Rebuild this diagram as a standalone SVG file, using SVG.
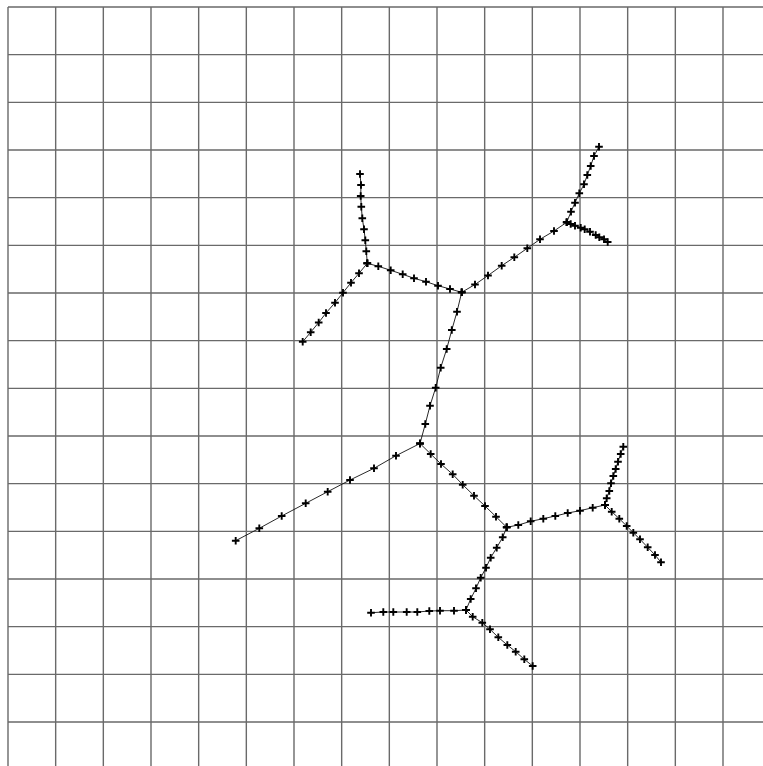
<svg xmlns="http://www.w3.org/2000/svg" width="763" height="766" viewBox="0 0 763 766">
<style>
.grid{stroke:#6a6a6a;stroke-width:1.4;fill:none}
.br{stroke:#111;stroke-width:0.9;fill:none;marker-start:url(#x);marker-mid:url(#x);marker-end:url(#x)}
</style>
<defs>
<marker id="x" markerUnits="userSpaceOnUse" markerWidth="10" markerHeight="10" viewBox="-5 -5 10 10" refX="0" refY="0" orient="0" overflow="visible">
<path d="M-3.8 0H3.8M0 -3.8V3.8" stroke="#000" stroke-width="1.9" fill="none"/>
</marker>
</defs>
<rect width="763" height="766" fill="#fff"/>
<g id="grid" class="grid">
<path d="M8 7V766M55.67 7V766M103.33 7V766M151 7V766M198.67 7V766M246.33 7V766M294 7V766M341.67 7V766M389.33 7V766M437 7V766M484.67 7V766M532.33 7V766M580 7V766M627.67 7V766M675.33 7V766M723 7V766"/>
<path d="M8 7H763M8 54.67H763M8 102.33H763M8 150H763M8 197.67H763M8 245.33H763M8 293H763M8 340.67H763M8 388.33H763M8 436H763M8 483.67H763M8 531.33H763M8 579H763M8 626.67H763M8 674.33H763M8 722H763"/>
</g>
<g id="connectors">
<polyline id="A-up" class="br" points="367.3,263.3 366.3,251.3 365.3,240.3 364,229.3 362.3,218.3 361.3,206.7 360.7,196 361,185 360,174"/>
<polyline id="A-dl" class="br" points="367.3,263.3 359,273.3 351,282.7 343,292.7 335,302.7 326,313 318.7,322.5 310.7,332.2 302.7,341.8"/>
<polyline id="A-B" class="br" points="367.3,263.3 378.3,266.3 390.7,270.3 402.7,274.3 414,278.3 426,281.7 438,285.7 450,289 461.7,292.3"/>
<polyline id="B-C" class="br" points="461.7,292.3 475,284.5 488,275.5 501.7,265.7 514.3,257.3 527.3,248.3 540,239.3 554,231 566.7,222.3"/>
<polyline id="C-up" class="br" points="566.7,222.3 571,211.7 575,202.7 579.3,193.3 584,184.3 587.3,175 590.7,166 594,156 599,146.7"/>
<polyline id="C-rd" class="br" points="566.7,222.3 570.7,224 575,225.7 580.7,227.7 584.7,229.3 590,231.7 595.7,235 599.3,237.3 604,239.3 607.7,242"/>
<polyline id="B-D" class="br" points="461.7,292.3 457,311.7 451.8,330 446.7,349 440.7,367.7 435.7,387.7 430,405.7 425.3,424 420,443.5"/>
<polyline id="D-left" class="br" points="420,443.5 396,455.7 374,468.3 350,480 327.7,491.7 305.7,503.3 281.7,516 259.3,528.3 235.7,540.7"/>
<polyline id="D-E" class="br" points="420,443.5 430.7,454 441,464 452.7,474.3 462.7,484.7 474,495.7 485,506 496,516.7 506.7,527.3"/>
<polyline id="E-F" class="br" points="506.7,527.3 518.3,525 530.7,521.3 543.3,518.7 555.3,516 567.7,513 580,510.7 592.7,507.7 605,505"/>
<polyline id="F-up" class="br" points="605,505 606.7,498.3 609.3,491 611,483.3 613.3,476 615.7,469 618,461.7 620.7,454 623.3,446.7"/>
<polyline id="F-rd" class="br" points="605,505 611.7,511.7 619.3,518.7 626.7,526 633.3,532.7 640,539.3 647.7,547.3 655,555 661,562.3"/>
<polyline id="E-G" class="br" points="506.7,527.3 502.7,537.3 496.7,547.7 490.7,557.7 486,567.7 480.7,577.7 476,588.3 470.7,599 466,610"/>
<polyline id="G-left" class="br" points="466,610 454,610.7 440,610.7 429.3,611 417.3,612 406.7,612 393.3,612 383.3,612 371,612.7"/>
<polyline id="G-rd" class="br" points="466,610 472.7,616.7 482.3,622.7 490,629.3 498.3,637.3 507.3,645 515.7,651.7 524.3,659.3 532.7,666"/>
</g>
</svg>
